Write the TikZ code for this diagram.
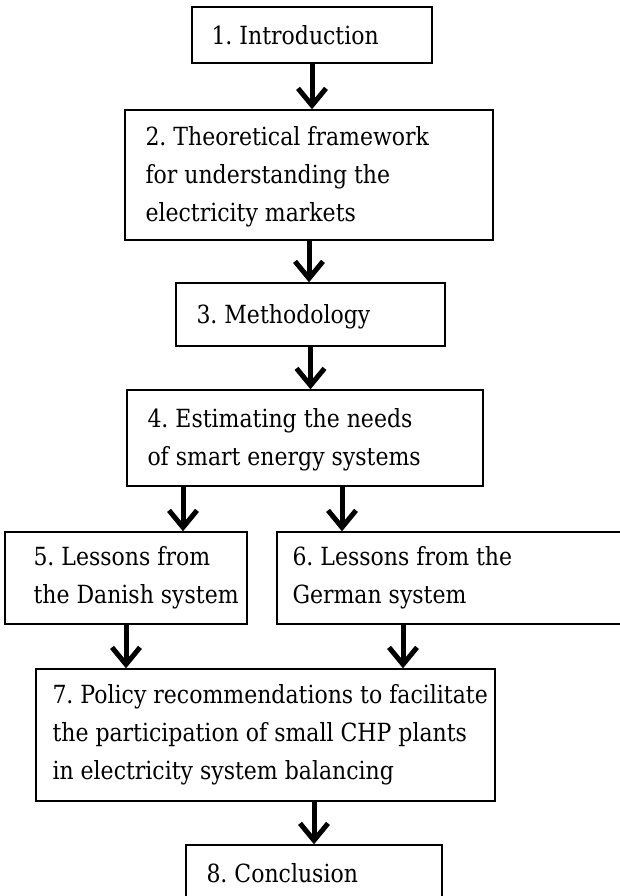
\documentclass[tikz,border=0pt]{standalone}
\usepackage{fontspec}
\setmainfont{DejaVu Serif}[FakeStretch=0.88]
\usetikzlibrary{arrows.meta}

\tikzset{
  box/.style={draw=black, line width=1.4pt, fill=white, inner sep=0pt},
  label text/.style={anchor=west, align=left, inner sep=0pt,
    font=\fontsize{25}{38}\selectfont\frenchspacing},
  flow/.style={line width=5pt, -{Straight Barb[length=17pt,width=28pt]}},
}

\begin{document}
\begin{tikzpicture}[x=1pt,y=1pt]
  \useasboundingbox (0,0) rectangle (620,-896);

  % chapter boxes
  \node[box, minimum width=240, minimum height=56]  (b1) at (312,-35) {};
  \node[box, minimum width=368, minimum height=130] (b2) at (309,-175) {};
  \node[box, minimum width=269, minimum height=63]  (b3) at (310.5,-314.5) {};
  \node[box, minimum width=356, minimum height=96]  (b4) at (305,-438) {};
  \node[box, minimum width=242, minimum height=92]  (b5) at (126,-578) {};
  \node[box, minimum width=363, minimum height=92]  (b6) at (458.5,-578) {};
  \node[box, minimum width=459, minimum height=132] (b7) at (265.5,-735) {};
  \node[box, minimum width=256, minimum height=56]  (b8) at (314,-873) {};

  % chapter titles
  \node[label text] (t1) at ([xshift=20]b1.west) {1. Introduction};
  \node[label text] (t2) at ([xshift=21,yshift=-2]b2.west)
    {2. Theoretical framework\\for understanding the\\electricity markets};
  \node[label text] (t3) at ([xshift=21,yshift=-2]b3.west) {3. Methodology};
  \node[label text] (t4) at ([xshift=21,yshift=-2]b4.west)
    {4. Estimating the needs\\of smart energy systems};
  \node[label text] (t5) at ([xshift=29]b5.west) {5. Lessons from\\the Danish system};
  \node[label text] (t6) at ([xshift=16]b6.west) {6. Lessons from the\\German system};
  \node[label text] (t7) at ([xshift=17]b7.west)
    {7. Policy recommendations to facilitate\\the participation of small CHP plants\\in electricity system balancing};
  \node[label text] (t8) at ([xshift=21]b8.west) {8. Conclusion};

  % connectors
  \draw[flow] (b1.south) -- (b1.south |- b2.north);
  \draw[flow] (b2.south) -- (b2.south |- b3.north);
  \draw[flow] (b3.south) -- (b3.south |- b4.north);
  \draw[flow] ([xshift=-122]b4.south) -- ([xshift=-122]b4.south |- b5.north);
  \draw[flow] ([xshift=37]b4.south) -- ([xshift=37]b4.south |- b6.north);
  \draw[flow] (b5.south) -- (b5.south |- b7.north);
  \draw[flow] ([xshift=-55.5]b6.south) -- ([xshift=-55.5]b6.south |- b7.north);
  \draw[flow] (b8.north |- b7.south) -- (b8.north);
\end{tikzpicture}
\end{document}
